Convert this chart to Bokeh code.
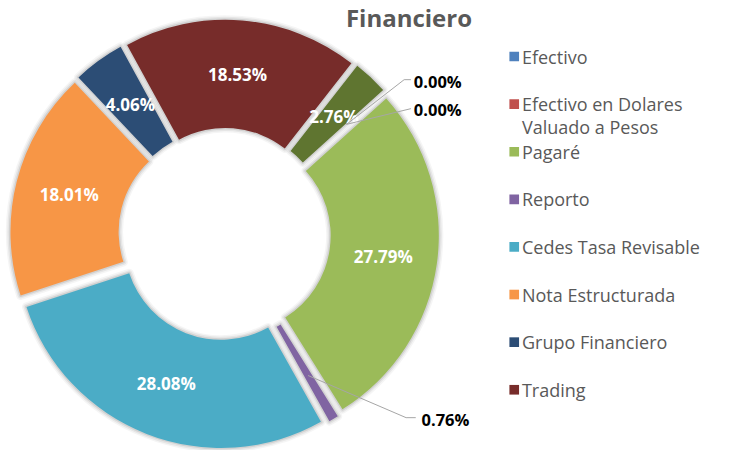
import numpy as np
from bokeh.plotting import figure
from bokeh.models import Range1d, ColumnDataSource
from bokeh.embed import file_html
from bokeh.resources import INLINE
from bokeh.core.properties import value

# ---------------- data ----------------
title_text = "Financiero"
categories = ["Efectivo", "Efectivo en Dolares Valuado a Pesos", "Pagaré", "Reporto",
              "Cedes Tasa Revisable", "Nota Estructurada", "Grupo Financiero", "Trading", "Otros"]
values = [0.00, 0.00, 27.79, 0.76, 28.08, 18.01, 4.06, 18.53, 2.76]
legend_count = 8
legend_lines = [["Efectivo"], ["Efectivo en Dolares", "Valuado a Pesos"], ["Pagaré"], ["Reporto"],
                ["Cedes Tasa Revisable"], ["Nota Estructurada"], ["Grupo Financiero"], ["Trading"]]
colors = ["#4F81BD", "#C0504D", "#9BBB59", "#8064A2", "#4BACC6", "#F79646",
          "#2C4D75", "#772C2A", "#5F7530"]

# ---------------- layout (reference pixel space, y down) ----------------
W_REF, H_REF = 739, 466
SCALE = 450 / H_REF
CX, CY = 232, 242
R_OUT, R_IN, EXPLODE = 212, 100, 10
FIRST_ANGLE = 48.0          # degrees clockwise from 12 o'clock
FONT = "Open Sans"

def Y(py):
    return H_REF - py

vals = np.array(values, dtype=float)
cum = np.concatenate([[0.0], np.cumsum(vals)]) / 100.0 * 360.0
start_c = FIRST_ANGLE + cum[:-1]
end_c = FIRST_ANGLE + cum[1:]
mid_c = (start_c + end_c) / 2.0
mid_r = np.radians(mid_c)

wx = CX + EXPLODE * np.sin(mid_r)
wy = Y(CY) + EXPLODE * np.cos(mid_r)
sa = np.radians(90.0 - end_c)
ea = np.radians(90.0 - start_c)

mask = vals > 0
src = ColumnDataSource(dict(x=wx[mask], y=wy[mask], sa=sa[mask], ea=ea[mask],
                            color=[c for c, m in zip(colors, mask) if m]))

p = figure(width=723, height=450, x_range=Range1d(0, 723 / SCALE), y_range=Range1d(0, H_REF),
           output_backend="svg", toolbar_location=None, min_border=0)
p.axis.visible = False
p.grid.visible = False
p.outline_line_color = None
p.background_fill_color = "white"

# soft shadow / glow
for lw, la in [(9, 0.04), (6, 0.06), (3, 0.09)]:
    p.annular_wedge(x="x", y="y", inner_radius=R_IN, outer_radius=R_OUT, start_angle="sa",
                    end_angle="ea", source=src, fill_color=None, line_color="#000000",
                    line_width=lw, line_alpha=la, line_join="round")

p.annular_wedge(x="x", y="y", inner_radius=R_IN, outer_radius=R_OUT, start_angle="sa",
                end_angle="ea", source=src, fill_color="color", line_color=None)

# inside labels
LR = (R_IN + R_OUT) / 2 + EXPLODE
inside = vals >= 2
lbl = [f"{v:.2f}%" for v in vals]
p.text(x=list(CX + LR * np.sin(mid_r[inside])), y=list(Y(CY) + LR * np.cos(mid_r[inside])),
       text=[l for l, m in zip(lbl, inside) if m], text_color="white",
       text_font=value(FONT), text_font_style="bold", text_font_size="17px",
       text_align="center", text_baseline="middle")

# outside labels with leader lines
ANCHOR_R = 170
out_pos = {0: [(418, 82), (425, 82)], 1: [(425, 112)], 3: [(420, 432), (430, 432)]}
out_text = {0: (428, 84), 1: (428, 113), 3: (436, 434)}
for i, pts in out_pos.items():
    ax = CX + ANCHOR_R * np.sin(mid_r[i])
    ay = Y(CY) + ANCHOR_R * np.cos(mid_r[i])
    xs = [ax] + [q[0] for q in pts]
    ys = [ay] + [Y(q[1]) for q in pts]
    p.line(xs, ys, line_color="#A6A6A6", line_width=1)
    tx, ty = out_text[i]
    p.text(x=[tx], y=[Y(ty)], text=[lbl[i]], text_color="#000000", text_font=value(FONT),
           text_font_style="bold", text_font_size="16.5px", text_align="left",
           text_baseline="middle")

# title
p.text(x=[423], y=[Y(18)], text=[title_text], text_color="#595959", text_font=value(FONT),
       text_font_style="bold", text_font_size="24px", text_align="center",
       text_baseline="middle")

# legend
LEG_X, LEG_TOP, LEG_STEP, LINE_H = 532, 58, 49.3, 24
for i in range(legend_count):
    ry = LEG_TOP + i * LEG_STEP
    p.rect(x=[LEG_X], y=[Y(ry)], width=10, height=10, fill_color=colors[i], line_color=None)
    for j, line in enumerate(legend_lines[i]):
        p.text(x=[LEG_X + 8], y=[Y(ry + j * LINE_H)], text=[line], text_color="#595959",
               text_font=value(FONT), text_font_size="18px", text_align="left",
               text_baseline="middle")

open("out.html", "w").write(file_html(p, INLINE))
